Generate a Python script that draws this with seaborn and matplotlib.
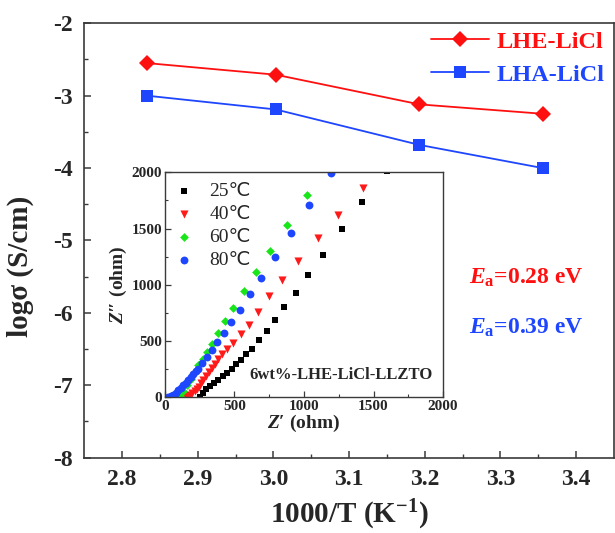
import matplotlib
matplotlib.use("Agg")
import matplotlib.pyplot as plt
import seaborn as sns
import pandas as pd

# ── Main plot data: log conductivity vs 1000/T ───────────────────────────
inv_t = [2.833, 3.003, 3.193, 3.356]
logs_lhe = [-2.55, -2.71, -3.12, -3.25]
logs_lha = [-3.00, -3.19, -3.68, -4.00]
series_names = ["LHE-LiCl", "LHA-LiCl"]

# ── Inset data: Nyquist plots of 6wt%-LHE-LiCl-LLZTO ─────────────────────
z_re_25 = [252, 271, 295, 324, 352, 384, 415, 448, 484, 515, 551, 587, 623, 676,
           731, 791, 858, 942, 1026, 1136, 1270, 1419, 1595]
z_im_25 = [3, 38, 71, 98, 127, 157, 187, 219, 255, 293, 335, 382, 433, 507,
           590, 685, 803, 931, 1087, 1268, 1493, 1736, 2010]
z_re_40 = [144, 162, 180, 198, 214, 230, 245, 260, 276, 295, 316, 336, 360, 384,
           412, 448, 491, 546, 606, 671, 750, 843, 958, 1098, 1246, 1424]
z_im_40 = [5, 12, 22, 35, 52, 72, 95, 125, 157, 187, 225, 264, 299, 338,
           382, 433, 486, 560, 646, 758, 904, 1043, 1212, 1416, 1624, 1864]
z_re_60 = [94, 108, 132, 156, 185, 216, 240, 271, 300, 340, 384, 431, 491, 570,
           655, 755, 879, 1023]
z_im_60 = [3, 12, 56, 107, 166, 225, 284, 344, 403, 477, 572, 678, 797, 949,
           1110, 1301, 1529, 1802]
z_re_80 = [24, 42, 60, 78, 96, 114, 132, 150, 168, 186, 204, 222, 240, 268, 300,
           336, 376, 427, 475, 539, 611, 689, 791, 906, 1038, 1191]
z_im_80 = [3, 10, 18, 40, 62, 85, 107, 129, 151, 177, 204, 230, 255, 305, 358,
           424, 492, 572, 670, 779, 919, 1064, 1245, 1464, 1713, 1998]
temp_labels = ["25℃", "40℃", "60℃", "80℃"]

x_ticks = [2.8, 2.9, 3.0, 3.1, 3.2, 3.3, 3.4]
y_ticks = [-8, -7, -6, -5, -4, -3, -2]
z_ticks = [0, 500, 1000, 1500, 2000]
ea_texts = ["0.28 eV", "0.39 eV"]

RED = "#ff1010"
BLUE = "#1e46ff"

sns.set_style("ticks")
plt.rcParams["font.family"] = ["Liberation Serif", "DejaVu Sans"]
plt.rcParams.update({
    "font.weight": "bold",
    "axes.unicode_minus": False,
    "mathtext.fontset": "custom",
    "mathtext.it": "Liberation Serif:italic:bold",
    "mathtext.rm": "Liberation Serif:bold",
    "mathtext.bf": "Liberation Serif:bold",
    "axes.edgecolor": "#3a3a3a",
    "axes.linewidth": 1.2,
    "xtick.direction": "in",
    "ytick.direction": "in",
})

fig = plt.figure(figsize=(6.15, 5.33), dpi=100)
ax = fig.add_axes([0.137, 0.1413, 0.8613, 0.815])

df_main = pd.DataFrame({
    "x": inv_t * 2,
    "y": logs_lhe + logs_lha,
    "s": [series_names[0]] * 4 + [series_names[1]] * 4,
})
sns.lineplot(data=df_main[df_main.s == series_names[0]], x="x", y="y", ax=ax,
             color=RED, marker="D", markersize=8, markeredgewidth=0,
             linewidth=1.3, label=series_names[0])
sns.lineplot(data=df_main[df_main.s == series_names[1]], x="x", y="y", ax=ax,
             color=BLUE, marker="s", markersize=8.5, markeredgewidth=0,
             linewidth=1.3, label=series_names[1])

ax.set_xlim(2.75, 3.45)
ax.set_ylim(-8, -2)
ax.set_xticks(x_ticks)
ax.set_xticklabels([f"{v:.1f}" for v in x_ticks])
ax.set_yticks(y_ticks)
ax.set_yticklabels([str(v) for v in y_ticks])
ax.set_xticks([v + 0.05 for v in x_ticks[:-1]], minor=True)
ax.set_yticks([v + 0.5 for v in y_ticks[:-1]], minor=True)
ax.tick_params(axis="both", which="major", labelsize=17, length=5, width=1.1,
               color="#3a3a3a", pad=8)
ax.tick_params(axis="both", which="minor", length=3, width=1.0, color="#3a3a3a")
ax.set_xlabel("1000/T (K$^{\\mathrm{-1}}$)", fontsize=21, fontweight="bold", labelpad=6)
ax.set_ylabel("logσ (S/cm)", fontsize=21, fontweight="bold")
ax.yaxis.set_label_coords(-0.095, 0.44)

leg = ax.legend(loc="upper right", bbox_to_anchor=(1.01, 1.016), frameon=False,
                fontsize=17.5, handlelength=2.4, handletextpad=0.3, labelspacing=0.45,
                borderaxespad=0.2)
for txt, col in zip(leg.get_texts(), [RED, BLUE]):
    txt.set_color(col)

for i, (txt, col) in enumerate(zip(ea_texts, [RED, BLUE])):
    fig.text(0.762, 0.468 - i * 0.095, "$E_{\\mathrm{a}}$=" + txt, color=col,
             fontsize=17, fontweight="bold", va="baseline")

# ── Inset ────────────────────────────────────────────────────────────────
axin = fig.add_axes([0.268, 0.2546, 0.4525, 0.422])
inset_sets = [
    (z_re_25, z_im_25, "black", "s", 24),
    (z_re_40, z_im_40, "#ff1a1a", "v", 34),
    (z_re_60, z_im_60, "#19e619", "D", 20),
    (z_re_80, z_im_80, "#1e46ff", "o", 32),
]
for (zr, zi, col, mk, sz), lab in zip(inset_sets, temp_labels):
    sns.scatterplot(x=zr, y=zi, ax=axin, color=col, marker=mk, s=sz,
                    linewidth=0, label=lab)

axin.set_xlim(0, 2000)
axin.set_ylim(0, 2000)
axin.set_xticks(z_ticks)
axin.set_yticks(z_ticks)
axin.set_xticks([250, 750, 1250, 1750], minor=True)
axin.set_yticks([250, 750, 1250, 1750], minor=True)
axin.tick_params(axis="both", which="major", labelsize=11, length=4, width=0.9,
                 color="#3a3a3a", pad=2)
axin.tick_params(axis="both", which="minor", length=2, width=0.8, color="#3a3a3a")
for sp in axin.spines.values():
    sp.set_linewidth(1.0)
axin.set_xlabel("$Z$′ (ohm)", fontsize=14, fontweight="bold", labelpad=0)
axin.set_ylabel("$Z$″ (ohm)", fontsize=14, fontweight="bold", labelpad=2)
axin.text(0.635, 0.1, "6wt%-LHE-LiCl-LLZTO", transform=axin.transAxes,
          fontsize=12, fontweight="bold", ha="center", va="center")

ileg = axin.legend(loc="upper left", frameon=False, fontsize=14,
                   handlelength=1.0, handletextpad=0.8, labelspacing=0.28,
                   borderaxespad=0.1, markerscale=1.0)
for t in ileg.get_texts():
    t.set_fontweight("normal")

fig.savefig("out.png", dpi=100)
